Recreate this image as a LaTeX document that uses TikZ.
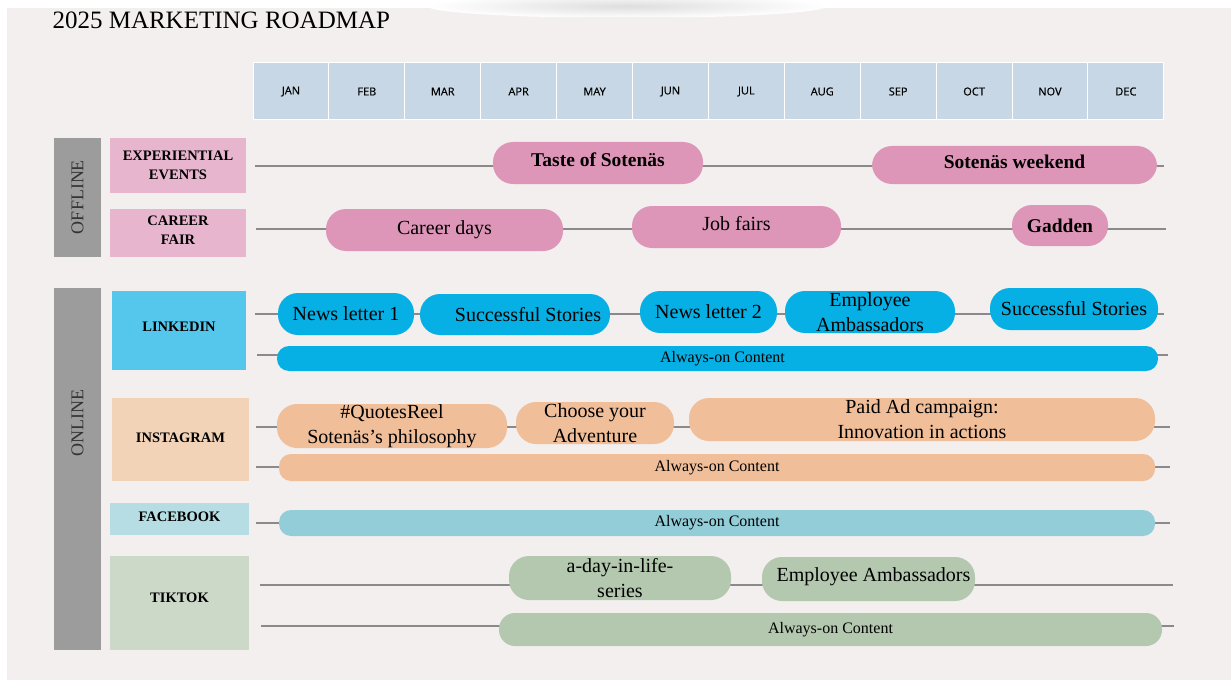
\documentclass[tikz,border=0pt]{standalone}
\usepackage{fontspec}
\setmainfont{Liberation Serif}
\setsansfont{Liberation Sans}
\newfontfamily\monthfont[FakeBold=0.5]{Open Sans}

\definecolor{paper}{HTML}{F3EFEE}
\definecolor{monthblue}{HTML}{C7D7E5}
\definecolor{sidegray}{HTML}{9C9C9C}
\definecolor{linegray}{HTML}{8A8A8A}
\definecolor{pinklab}{HTML}{E8B5CF}
\definecolor{pinkpill}{HTML}{DD95B8}
\definecolor{bluelab}{HTML}{56C7EC}
\definecolor{bluepill}{HTML}{06AFE4}
\definecolor{peachlab}{HTML}{F2D3B8}
\definecolor{peachpill}{HTML}{F0BE99}
\definecolor{teallab}{HTML}{B5DDE3}
\definecolor{tealpill}{HTML}{92CDD8}
\definecolor{sagelab}{HTML}{CCD8C8}
\definecolor{sagepill}{HTML}{B3C8AF}

\tikzset{
  month/.style={fill=monthblue, draw=white, line width=1pt, minimum width=75.9pt,
    minimum height=57pt, inner sep=0pt, font=\monthfont\fontsize{11}{13}\selectfont},
  sidebar/.style={fill=sidegray, minimum width=47pt, inner sep=0pt},
  sidetext/.style={rotate=90, inner sep=0pt, text=black!80, font=\fontsize{18}{20}\selectfont},
  chan/.style={inner sep=0pt, align=center, font=\bfseries\fontsize{14.5}{19}\selectfont},
  pill/.style={rounded corners=20pt, inner sep=0pt, align=center,
    font=\fontsize{20}{25}\selectfont},
  boldpill/.style={pill, font=\bfseries\fontsize{19.5}{23}\selectfont},
  aon/.style={rounded corners=12pt, inner sep=0pt, font=\fontsize{16}{18}\selectfont},
  rowline/.style={draw=linegray, line width=1.5pt},
}

\begin{document}
\begin{tikzpicture}[x=1pt, y=-1pt]
\useasboundingbox (0,0) rectangle (1231,682);
\fill[paper] (7,8) rectangle (1231,680);
\begin{scope}
  \clip (420,0) rectangle (830,17);
  \shade[inner color=black!13, outer color=white] (627,6) ellipse (200 and 12);
\end{scope}

\node[anchor=base west, font=\fontsize{25}{28}\selectfont] (title) at (49,29) {2025 MARKETING ROADMAP};

% months
\foreach \m [count=\i] in {JAN,FEB,MAR,APR,MAY,JUN,JUL,AUG,SEP,OCT,NOV,DEC}
  \node[month] (m\i) at ({253+75.9*(\i-0.5)},91.5) {\m};

% offline / online bars
\node[sidebar, minimum height=119pt] (offline) at (77.5,197.5) {};
\node[sidetext] (offline-txt) at (77.5,197) {OFFLINE};
\node[sidebar, minimum height=362pt] (online) at (77.5,469) {};
\node[sidetext] (online-txt) at (77.5,423) {ONLINE};

% channels
\node[chan, fill=pinklab, minimum width=136pt, minimum height=55pt] (events) at (178,165.5) {EXPERIENTIAL\\EVENTS};
\node[chan, fill=pinklab, minimum width=136pt, minimum height=48pt, text depth=6pt] (career) at (178,233) {CAREER\\FAIR};
\node[chan, fill=bluelab, minimum width=134pt, minimum height=79pt, text depth=8pt] (linkedin) at (179,330.5) {LINKEDIN};
\node[chan, fill=peachlab, minimum width=137pt, minimum height=83pt, text depth=4pt] (instagram) at (180.5,439.5) {INSTAGRAM};
\node[chan, fill=teallab, minimum width=139pt, minimum height=32pt, text depth=4pt] (facebook) at (179.5,519) {FACEBOOK};
\node[chan, fill=sagelab, minimum width=139pt, minimum height=94pt, text depth=10pt] (tiktok) at (179.5,603) {TIKTOK};

% timelines
\foreach \r/\y/\a/\b in {ee/166/255/1164, cf/229/256/1166, lia/314/255/1164, lib/355/257/1168,
    iga/427/256/1170, igb/467/256/1170, fb/523/256/1170, tta/585/260/1173, ttb/626/261/1174} {
  \coordinate (\r-a) at (\a,\y);
  \coordinate (\r-b) at (\b,\y);
  \path[rowline] (\r-a) -- (\r-b);
}

% offline activities
\node[boldpill, fill=pinkpill, minimum width=210pt, minimum height=42pt, text depth=6pt] (taste) at (598,163) {Taste of Sotenäs};
\node[boldpill, fill=pinkpill, minimum width=285pt, minimum height=38pt, text depth=6pt] (weekend) at (1014.5,165) {Sotenäs weekend};
\node[pill, fill=pinkpill, minimum width=237pt, minimum height=42pt] (careerdays) at (444.5,230) {Career days};
\node[pill, fill=pinkpill, minimum width=209pt, minimum height=42pt, text depth=7pt] (jobfairs) at (736.5,227) {Job fairs};
\node[boldpill, fill=pinkpill, minimum width=96pt, minimum height=41pt] (gadden) at (1060,225.5) {Gadden};

% linkedin
\node[pill, fill=bluepill, minimum width=136pt, minimum height=42pt] (news1) at (346,314) {News letter 1};
\node[pill, fill=bluepill, minimum width=190pt, minimum height=41pt] (stories1) at (515,314.5) {\hspace{26pt}Successful Stories};
\node[pill, fill=bluepill, minimum width=137pt, minimum height=42pt] (news2) at (708.5,312) {News letter 2};
\node[pill, fill=bluepill, minimum width=170pt, minimum height=42pt] (ambass1) at (870,312) {Employee\\Ambassadors};
\node[pill, fill=bluepill, minimum width=168pt, minimum height=42pt] (stories2) at (1074,309) {Successful Stories};
\node[aon, fill=bluepill, minimum width=881pt, minimum height=25pt] (li-aon) at (717.5,358.5) {\hspace{10pt}Always-on Content};

% instagram
\node[pill, fill=peachpill, minimum width=230pt, minimum height=44pt] (quotes) at (392,426) {\#QuotesReel\\Sotenäs’s philosophy};
\node[pill, fill=peachpill, minimum width=158pt, minimum height=42pt] (adventure) at (595,423) {Choose your\\Adventure};
\node[pill, fill=peachpill, minimum width=466pt, minimum height=43pt] (paidad) at (922,419.5) {Paid Ad campaign:\\Innovation in actions};
\node[aon, fill=peachpill, minimum width=876pt, minimum height=27pt] (ig-aon) at (717,467.5) {Always-on Content};

% facebook
\node[aon, fill=tealpill, minimum width=876pt, minimum height=26pt] (fb-aon) at (717,523) {Always-on Content};

% tiktok
\node[pill, fill=sagepill, minimum width=222pt, minimum height=44pt] (dayinlife) at (620,578) {a-day-in-life-\\series};
\node[pill, fill=sagepill, minimum width=213pt, minimum height=44pt, text depth=8pt] (ambass2) at (868.5,579) {\hspace{10pt}Employee Ambassadors};
\node[aon, fill=sagepill, minimum width=663pt, minimum height=33pt, rounded corners=16pt] (tt-aon) at (830.5,629.5) {Always-on Content};
\end{tikzpicture}
\end{document}
